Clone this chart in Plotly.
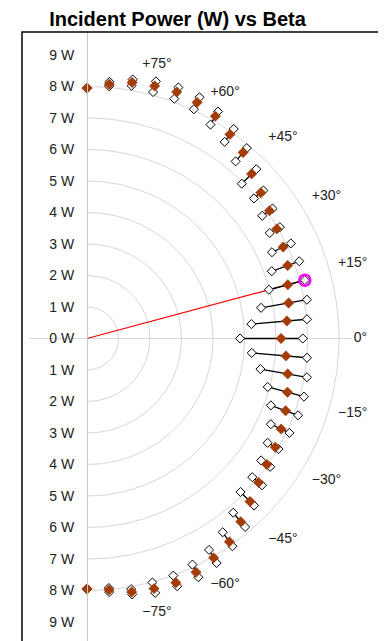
import numpy as np
import plotly.graph_objects as go

# ---- data ----
beta_deg = [90, 85, 80, 75, 70, 65, 60, 55, 50, 45, 40, 35, 30, 25, 20, 15, 10, 5, 0,
            -5, -10, -15, -20, -25, -30, -35, -40, -45, -50, -55, -60, -65, -70, -75, -80, -85, -90]
power_mean = [7.95, 8.10, 8.25, 8.30, 8.33, 8.27, 8.15, 7.91, 7.71, 7.39, 7.20, 7.07, 6.96, 6.87, 6.78, 6.60, 6.50, 6.37, 6.16,
              6.34, 6.47, 6.59, 6.71, 6.80, 6.90, 6.97, 7.11, 7.32, 7.59, 7.88, 8.04, 8.19, 8.25, 8.22, 8.17, 8.01, 7.95]
power_min = [7.95, 8.04, 8.15, 8.10, 8.10, 8.03, 7.84, 7.62, 7.34, 6.95, 6.92, 6.79, 6.70, 6.48, 6.24, 5.98, 5.61, 5.24, 4.86,
             5.25, 5.59, 5.94, 6.21, 6.44, 6.62, 6.75, 6.85, 6.89, 7.22, 7.51, 7.75, 7.92, 8.01, 8.02, 8.08, 7.95, 7.95]
power_max = [7.95, 8.18, 8.35, 8.45, 8.48, 8.45, 8.32, 8.12, 7.89, 7.60, 7.31, 7.19, 7.07, 7.14, 7.17, 7.16, 7.09, 7.01, 6.85,
             7.01, 7.09, 7.13, 7.13, 7.09, 7.02, 7.10, 7.25, 7.50, 7.81, 8.05, 8.23, 8.36, 8.37, 8.36, 8.25, 8.08, 7.95]
selected_beta = 15           # highlighted point (max value at +15 deg)

tick_vals = [-9, -8, -7, -6, -5, -4, -3, -2, -1, 0, 1, 2, 3, 4, 5, 6, 7, 8, 9]
tick_text = ["9 W", "8 W", "7 W", "6 W", "5 W", "4 W", "3 W", "2 W", "1 W", "0 W",
             "1 W", "2 W", "3 W", "4 W", "5 W", "6 W", "7 W", "8 W", "9 W"]
grid_radii = [1, 2, 3, 4, 5, 6, 7, 8]
angle_labels_deg = [75, 60, 45, 30, 15, 0, -15, -30, -45, -60, -75]
angle_labels_txt = ["+75°", "+60°", "+45°", "+30°", "+15°", "0°",
                    "−15°", "−30°", "−45°", "−60°", "−75°"]

# ---- styling ----
BROWN = "#a33c08"
GRID = "#d6d6d6"
FONT = "Liberation Sans, Arial, sans-serif"


def pol2xy(r, deg):
    t = np.radians(np.asarray(deg, dtype=float))
    r = np.asarray(r, dtype=float)
    return r * np.cos(t), r * np.sin(t)


xm, ym = pol2xy(power_mean, beta_deg)
xl, yl = pol2xy(power_min, beta_deg)
xh, yh = pol2xy(power_max, beta_deg)

fig = go.Figure()

# grid arcs
gx, gy = [], []
th = np.linspace(-90, 90, 181)
for r in grid_radii:
    ax, ay = pol2xy(np.full_like(th, r), th)
    gx += list(ax) + [None]
    gy += list(ay) + [None]
fig.add_trace(go.Scatter(x=gx, y=gy, mode="lines", line=dict(color=GRID, width=1),
                         hoverinfo="skip"))

# red line to selected point
si = beta_deg.index(selected_beta)
fig.add_trace(go.Scatter(x=[0, xh[si]], y=[0, yh[si]], mode="lines",
                         line=dict(color="#ff0000", width=1.2), hoverinfo="skip"))

# min-max segments
sx, sy = [], []
for a, b, c, d in zip(xl, xh, yl, yh):
    sx += [a, b, None]
    sy += [c, d, None]
fig.add_trace(go.Scatter(x=sx, y=sy, mode="lines", line=dict(color="black", width=1.3),
                         hoverinfo="skip"))

# hollow min / max markers
hollow = dict(symbol="diamond", size=7, color="white", line=dict(color="black", width=1))
fig.add_trace(go.Scatter(x=xl, y=yl, mode="markers", marker=hollow))
fig.add_trace(go.Scatter(x=xh, y=yh, mode="markers", marker=hollow))

# mean markers
fig.add_trace(go.Scatter(x=xm, y=ym, mode="markers",
                         marker=dict(symbol="diamond", size=8, color=BROWN,
                                     line=dict(color=BROWN, width=0.5))))

# highlight ring
fig.add_trace(go.Scatter(x=[xh[si]], y=[yh[si]], mode="markers",
                         marker=dict(symbol="circle", size=11, color="rgba(0,0,0,0)",
                                     line=dict(color="#ff00ff", width=2.5))))

# angle labels (placed just outside the outer grid ring)
lab_deg = np.asarray(angle_labels_deg, dtype=float)
lr = 8.68 + 0.32 * np.abs(np.sin(np.radians(lab_deg)))
lx, ly = pol2xy(lr, lab_deg + 0.7 * np.sign(lab_deg))
fig.add_trace(go.Scatter(x=lx, y=ly, mode="text", text=angle_labels_txt,
                         textposition="middle center",
                         textfont=dict(family=FONT, size=14, color="#222222"),
                         hoverinfo="skip"))

# page places the figure 8px from the top-left corner (default body margin)
OFF = 8
PX = 31.5          # pixels per watt
W, H = 386 - OFF, 641 - OFF
L, R, T, B = 22 - OFF, 386 - 379, 32 - OFF, 0
plot_w = W - L - R
plot_h = H - T - B
ox, oy = 87 - 22, 338.5 - 32   # origin offset inside plot area (px)

fig.update_layout(
    width=W, height=H,
    margin=dict(l=L, r=R, t=T, b=B),
    paper_bgcolor="white", plot_bgcolor="white",
    showlegend=False,
    title=dict(text="<b>Incident Power (W) vs Beta</b>", x=(177.5 - OFF) / W,
               y=1 - (19 - OFF) / H, xanchor="center", yanchor="middle",
               font=dict(family=FONT, size=20, color="black")),
    xaxis=dict(range=[-ox / PX, (plot_w - ox) / PX], visible=False, fixedrange=True),
    yaxis=dict(range=[-(plot_h - oy) / PX, oy / PX], tickvals=tick_vals, ticktext=tick_text,
               showgrid=False, zeroline=False, anchor="free", position=ox / plot_w,
               showline=True, linecolor="#c8c8c8", linewidth=1, ticks="",
               ticklabelstandoff=10,
               tickfont=dict(family=FONT, size=14, color="#222222")),
    shapes=[
        dict(type="line", xref="x", yref="y", x0=-1.81, x1=8.4, y0=0, y1=0,
             line=dict(color=GRID, width=1), layer="below"),
        dict(type="rect", xref="paper", yref="paper", x0=0, x1=1, y0=-0.03, y1=1,
             line=dict(color="black", width=1.5)),
    ],
)

fig.write_html("out.html")
